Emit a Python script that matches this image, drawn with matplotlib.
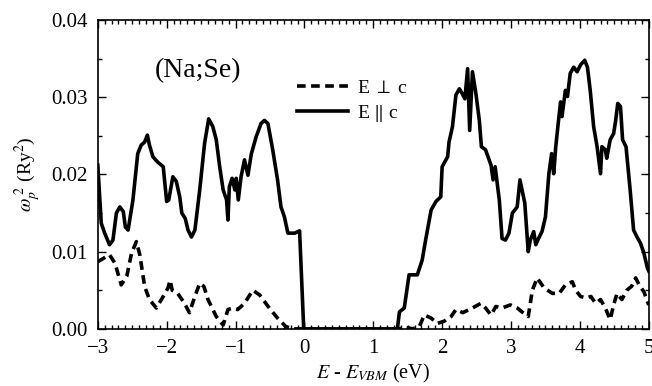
import numpy as np
import matplotlib
matplotlib.use('Agg')
import matplotlib.pyplot as plt
from matplotlib.ticker import MultipleLocator

# E || c  (solid)
e_par = [-3.00, -2.95, -2.90, -2.83, -2.78, -2.73, -2.68, -2.63, -2.60, -2.56,
         -2.49, -2.42, -2.37, -2.32, -2.28, -2.25, -2.20, -2.13, -2.05, -2.00,
         -1.97, -1.91, -1.86, -1.81, -1.78, -1.73, -1.69, -1.64, -1.59, -1.52,
         -1.45, -1.39, -1.33, -1.28, -1.23, -1.18, -1.13, -1.11, -1.09, -1.05,
         -1.01, -0.99, -0.96, -0.92, -0.87, -0.82, -0.77, -0.70, -0.63, -0.58,
         -0.53, -0.46, -0.39, -0.34, -0.29, -0.24, -0.14, -0.07, -0.01, 0.50,
         1.00, 1.35, 1.38, 1.45, 1.52, 1.64, 1.71, 1.76, 1.84, 1.91,
         1.98, 2.00, 2.08, 2.10, 2.15, 2.20, 2.25, 2.29, 2.33, 2.37,
         2.40, 2.44, 2.49, 2.54, 2.57, 2.63, 2.71, 2.74, 2.77, 2.83,
         2.87, 2.92, 2.97, 3.02, 3.09, 3.13, 3.17, 3.20, 3.25, 3.28,
         3.33, 3.36, 3.41, 3.45, 3.50, 3.55, 3.59, 3.62, 3.65, 3.69,
         3.72, 3.74, 3.79, 3.82, 3.86, 3.91, 3.96, 4.01, 4.07, 4.11,
         4.15, 4.20, 4.25, 4.30, 4.32, 4.37, 4.39, 4.44, 4.49, 4.52,
         4.55, 4.59, 4.62, 4.67, 4.73, 4.78, 4.83, 4.88, 4.93, 4.98, 5.00]
w_par = [0.0212, 0.0137, 0.0124, 0.0109, 0.0115, 0.0150, 0.0158, 0.0152, 0.0132, 0.0128,
         0.0167, 0.0227, 0.0238, 0.0242, 0.0251, 0.0238, 0.0223, 0.0216, 0.0210, 0.0165,
         0.0167, 0.0197, 0.0191, 0.0171, 0.0150, 0.0143, 0.0128, 0.0119, 0.0128, 0.0180,
         0.0240, 0.0272, 0.0262, 0.0245, 0.0210, 0.0180, 0.0167, 0.0141, 0.0184, 0.0195,
         0.0180, 0.0195, 0.0167, 0.0197, 0.0219, 0.0199, 0.0227, 0.0249, 0.0266, 0.0270,
         0.0266, 0.0232, 0.0193, 0.0158, 0.0145, 0.0124, 0.0124, 0.0127, 0.0000, 0.0000,
         0.0000, 0.0000, 0.0022, 0.0027, 0.0070, 0.0070, 0.0089, 0.0115, 0.0154, 0.0165,
         0.0171, 0.0210, 0.0223, 0.0242, 0.0262, 0.0303, 0.0311, 0.0305, 0.0298, 0.0337,
         0.0257, 0.0333, 0.0305, 0.0270, 0.0236, 0.0232, 0.0212, 0.0193, 0.0210, 0.0167,
         0.0117, 0.0115, 0.0124, 0.0150, 0.0158, 0.0193, 0.0176, 0.0163, 0.0100, 0.0115,
         0.0126, 0.0109, 0.0119, 0.0126, 0.0145, 0.0201, 0.0227, 0.0201, 0.0236, 0.0270,
         0.0294, 0.0275, 0.0309, 0.0301, 0.0331, 0.0339, 0.0333, 0.0342, 0.0348, 0.0339,
         0.0309, 0.0262, 0.0236, 0.0201, 0.0236, 0.0232, 0.0221, 0.0245, 0.0253, 0.0270,
         0.0292, 0.0288, 0.0245, 0.0236, 0.0180, 0.0128, 0.0119, 0.0111, 0.0098, 0.0079, 0.0075]

# E _|_ c  (dashed)
e_perp = [-3.00, -2.83, -2.75, -2.66, -2.58, -2.51, -2.44, -2.39, -2.32, -2.25,
          -2.15, -2.05, -1.98, -1.95, -1.92, -1.84, -1.74, -1.67, -1.59, -1.52,
          -1.46, -1.40, -1.28, -1.18, -1.11, -1.04, -0.97, -0.87, -0.75, -0.65,
          -0.51, -0.39, -0.27, -0.17, 0.50, 1.38, 1.47, 1.57, 1.67, 1.74,
          1.84, 1.93, 2.03, 2.13, 2.20, 2.30, 2.44, 2.56, 2.63, 2.71,
          2.78, 2.87, 2.99, 3.09, 3.16, 3.25, 3.31, 3.38, 3.48, 3.60,
          3.70, 3.79, 3.89, 3.94, 4.01, 4.09, 4.16, 4.23, 4.30, 4.37,
          4.44, 4.49, 4.54, 4.61, 4.68, 4.75, 4.81, 4.86, 4.93, 5.00]
w_perp = [0.0087, 0.0096, 0.0085, 0.0057, 0.0068, 0.0098, 0.0113, 0.0096, 0.0055, 0.0038,
          0.0027, 0.0042, 0.0053, 0.0063, 0.0050, 0.0046, 0.0033, 0.0021, 0.0042, 0.0059,
          0.0055, 0.0038, 0.0016, 0.0005, 0.0025, 0.0027, 0.0025, 0.0033, 0.0050, 0.0044,
          0.0027, 0.0014, 0.0003, 0.0000, 0.0000, 0.0000, 0.0002, 0.0000, 0.0003, 0.0018,
          0.0014, 0.0007, 0.0010, 0.0016, 0.0025, 0.0021, 0.0027, 0.0033, 0.0027, 0.0018,
          0.0029, 0.0027, 0.0031, 0.0027, 0.0022, 0.0016, 0.0050, 0.0066, 0.0053, 0.0046,
          0.0046, 0.0057, 0.0061, 0.0050, 0.0042, 0.0040, 0.0042, 0.0033, 0.0038, 0.0027,
          0.0012, 0.0031, 0.0046, 0.0038, 0.0050, 0.0055, 0.0066, 0.0057, 0.0048, 0.0031]

plt.rcParams['font.family'] = 'Liberation Serif'
plt.rcParams['mathtext.fontset'] = 'stix'

fig = plt.figure(figsize=(6.52, 3.86), dpi=100)
ax = fig.add_axes([0.150, 0.148, 0.845, 0.800])

ax.plot(e_perp, w_perp, c='k', lw=2.6, ls=(0, (2.4, 1.5)), label=r'E $\perp$ c')
ax.plot(e_par, w_par, c='k', lw=2.6, ls='-', label=r'E $\Vert$ c')

ax.set_xlim(-3, 5)
ax.set_ylim(0, 0.04)
ax.xaxis.set_major_locator(MultipleLocator(1))
ax.xaxis.set_minor_locator(MultipleLocator(0.1))
ax.yaxis.set_major_locator(MultipleLocator(0.01))
ax.yaxis.set_minor_locator(MultipleLocator(0.005))
ax.yaxis.set_major_formatter(matplotlib.ticker.FormatStrFormatter('%.2f'))
ax.tick_params(which='both', direction='in', top=True, right=True, width=1)
ax.tick_params(which='major', length=6, labelsize=15, pad=7)
ax.tick_params(which='minor', length=3)
for s in ax.spines.values():
    s.set_linewidth(1.2)

ax.set_xlabel(r'$E$ - $E_{VBM}$ (eV)', fontsize=14.5, labelpad=3)
ax.set_ylabel(r'$\omega_p^{\ 2}$ (Ry$^2$)', fontsize=14, labelpad=6)

ax.text(-1.55, 0.0335, '(Na;Se)', fontsize=20, ha='center', va='center')
ax.legend(loc='upper left', bbox_to_anchor=(0.33, 0.865), frameon=False,
          fontsize=14, handlelength=2.6, handletextpad=0.5, labelspacing=0.3)

fig.savefig('out.png', dpi=100)
